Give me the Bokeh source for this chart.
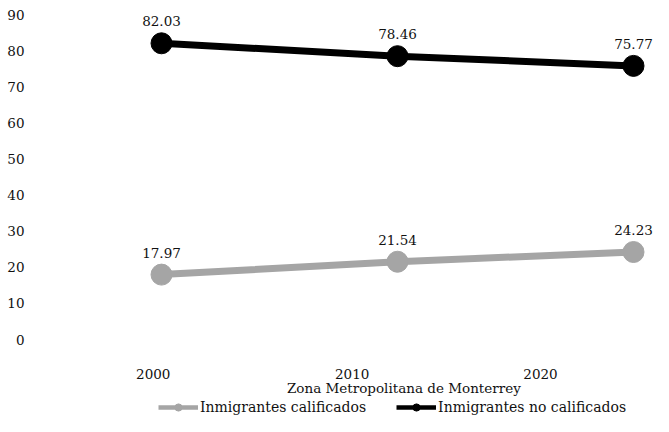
from bokeh.plotting import figure
from bokeh.models import ColumnDataSource, Range1d, FixedTicker, Legend, LegendItem, Label
from bokeh.embed import file_html
from bokeh.resources import INLINE
from bokeh.core.properties import value

# ---- data ----
years = ["2000", "2010", "2020"]
calificados = [17.97, 21.54, 24.23]
no_calificados = [82.03, 78.46, 75.77]
y_ticks = [0, 10, 20, 30, 40, 50, 60, 70, 80, 90]
x_title = "Zona Metropolitana de Monterrey"
name_cal = "Inmigrantes calificados"
name_nocal = "Inmigrantes no calificados"

FONT = "DejaVu Serif"
GRAY = "#A5A5A5"
BLACK = "#000000"
TXT = "#111111"

idx = list(range(len(years)))
# category label positions (offset from the points, as in the original picture)
tick_pos = [-0.035, 0.808, 1.606]

p = figure(width=653, height=416, output_backend="svg", toolbar_location=None,
           x_range=Range1d(-0.5466, 2.0847), y_range=Range1d(-21.32, 92.77),
           min_border_left=32, min_border_right=0, min_border_top=4,
           min_border_bottom=0)
p.outline_line_color = None
p.grid.visible = False
p.background_fill_color = "white"
p.border_fill_color = "white"

src_c = ColumnDataSource(dict(x=idx, y=calificados, t=["%.2f" % v for v in calificados]))
src_n = ColumnDataSource(dict(x=idx, y=no_calificados, t=["%.2f" % v for v in no_calificados]))

# thinner copies (hidden under the main lines) used for the legend swatches
lg1 = p.line("x", "y", source=src_c, line_color=GRAY, line_width=4.5)
lg2 = p.line("x", "y", source=src_n, line_color=BLACK, line_width=4.5)

l1 = p.line("x", "y", source=src_c, line_color=GRAY, line_width=7)
s1 = p.scatter("x", "y", source=src_c, size=21, fill_color=GRAY, line_color=GRAY)
l2 = p.line("x", "y", source=src_n, line_color=BLACK, line_width=7)
s2 = p.scatter("x", "y", source=src_n, size=21, fill_color=BLACK, line_color=BLACK)

for src in (src_c, src_n):
    p.text("x", "y", text="t", source=src, text_align="center",
           text_baseline="alphabetic", y_offset=-22,
           text_font=value(FONT), text_font_size="13.5px", text_color=TXT)

# y axis
p.yaxis.ticker = FixedTicker(ticks=y_ticks)
p.yaxis.axis_line_color = None
p.yaxis.major_tick_line_color = None
p.yaxis.minor_tick_line_color = None
p.yaxis.major_tick_out = 0
p.yaxis.major_tick_in = 0
p.yaxis.major_label_standoff = 8
p.yaxis.major_label_text_font = FONT
p.yaxis.major_label_text_font_size = "13.5px"
p.yaxis.major_label_text_color = TXT

# x axis (drawn just below the plotting area)
p.xaxis.fixed_location = -7.2
p.xaxis.ticker = FixedTicker(ticks=tick_pos)
p.xaxis.major_label_overrides = {tp: y for tp, y in zip(tick_pos, years)}
p.xaxis.axis_line_color = None
p.xaxis.major_tick_line_color = None
p.xaxis.minor_tick_line_color = None
p.xaxis.major_tick_out = 0
p.xaxis.major_tick_in = 0
p.xaxis.major_label_standoff = 3
p.xaxis.major_label_text_font = FONT
p.xaxis.major_label_text_font_size = "13.5px"
p.xaxis.major_label_text_color = TXT

p.add_layout(Label(x=1.027, y=-13.3, text=x_title, text_align="center",
                   text_baseline="middle", text_font=FONT, text_font_size="13.5px",
                   text_color=TXT))

legend = Legend(items=[LegendItem(label=name_cal, renderers=[lg1, s1]),
                       LegendItem(label=name_nocal, renderers=[lg2, s2])],
                orientation="horizontal", location=(126, 0),
                glyph_width=40, glyph_height=18, label_height=18,
                label_standoff=2, spacing=30,
                padding=0, margin=0, border_line_color=None,
                background_fill_alpha=0, label_text_font=FONT,
                label_text_font_size="14px", label_text_color=TXT)
p.add_layout(legend, "center")

open("out.html", "w").write(file_html(p, INLINE))
